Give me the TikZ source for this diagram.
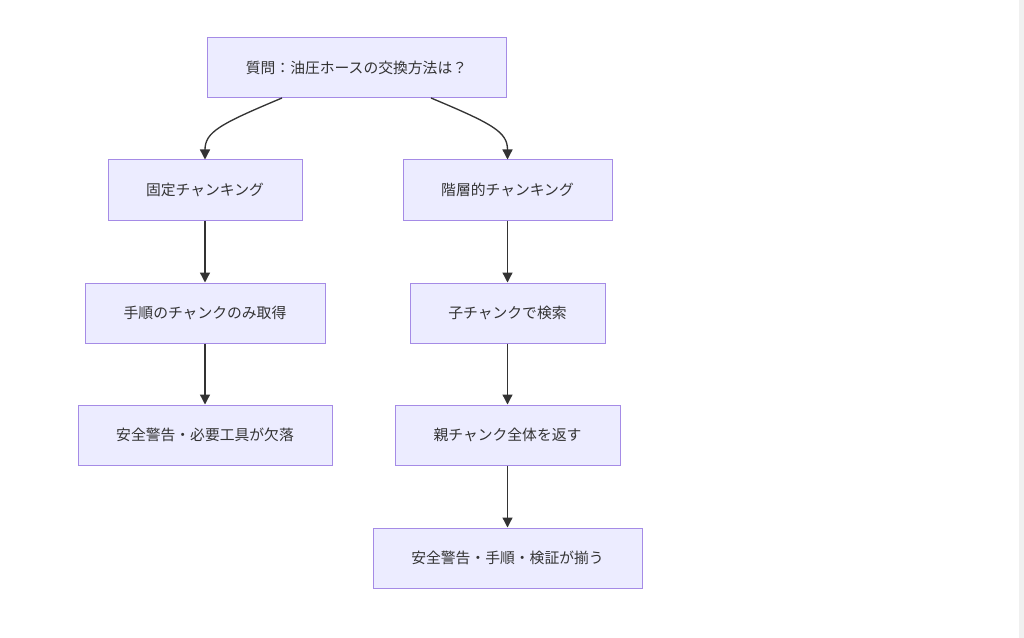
\documentclass[tikz,border=0pt]{standalone}
\usepackage{fontspec}
\setmainfont{Noto Sans CJK JP}
\usetikzlibrary{arrows.meta}
\definecolor{nodefill}{HTML}{ECECFF}
\definecolor{nodeborder}{HTML}{A58BE6}
\definecolor{edgecol}{HTML}{333333}
\definecolor{txtcol}{HTML}{333333}
\begin{document}
\begin{tikzpicture}[x=0.75pt,y=-0.75pt,
  box/.style={draw=nodeborder,fill=nodefill,line width=0.75pt,inner sep=0pt,
    font=\fontsize{11.1pt}{13pt}\selectfont,text=txtcol,anchor=center},
  edge/.style={draw=edgecol,line width=1pt,-{Triangle[length=7.5pt,width=7.5pt]}}]
\useasboundingbox[fill=white] (0,0) rectangle (1024,638);
\fill[gray!12] (1019,0) rectangle (1024,638);
\node[box,minimum width=299*0.75pt,minimum height=60*0.75pt] (q) at (356.5,68) {質問：油圧ホースの交換方法は？};
\node[box,minimum width=194*0.75pt,minimum height=60*0.75pt] (f) at (205,190) {固定チャンキング};
\node[box,minimum width=209*0.75pt,minimum height=60*0.75pt] (h) at (507.5,190) {階層的チャンキング};
\node[box,minimum width=240*0.75pt,minimum height=60*0.75pt] (f2) at (205,313) {手順のチャンクのみ取得};
\node[box,minimum width=195*0.75pt,minimum height=60*0.75pt] (h2) at (507.5,313) {子チャンクで検索};
\node[box,minimum width=254*0.75pt,minimum height=60*0.75pt] (f3) at (205,435) {安全警告・必要工具が欠落};
\node[box,minimum width=225*0.75pt,minimum height=60*0.75pt] (h3) at (507.5,435) {親チャンク全体を返す};
\node[box,minimum width=269*0.75pt,minimum height=60*0.75pt] (h4) at (507.5,558) {安全警告・手順・検証が揃う};
\coordinate (qa) at (282,98);
\coordinate (qb) at (431,98);
\draw[edge] (qa) .. controls (220,124) and (205,132) .. (f.north);
\draw[edge] (qb) .. controls (493,124) and (507.5,132) .. (h.north);
\draw[edge] (f) -- (f2);
\draw[edge] (f2) -- (f3);
\draw[edge] (h) -- (h2);
\draw[edge] (h2) -- (h3);
\draw[edge] (h3) -- (h4);
\end{tikzpicture}
\end{document}
